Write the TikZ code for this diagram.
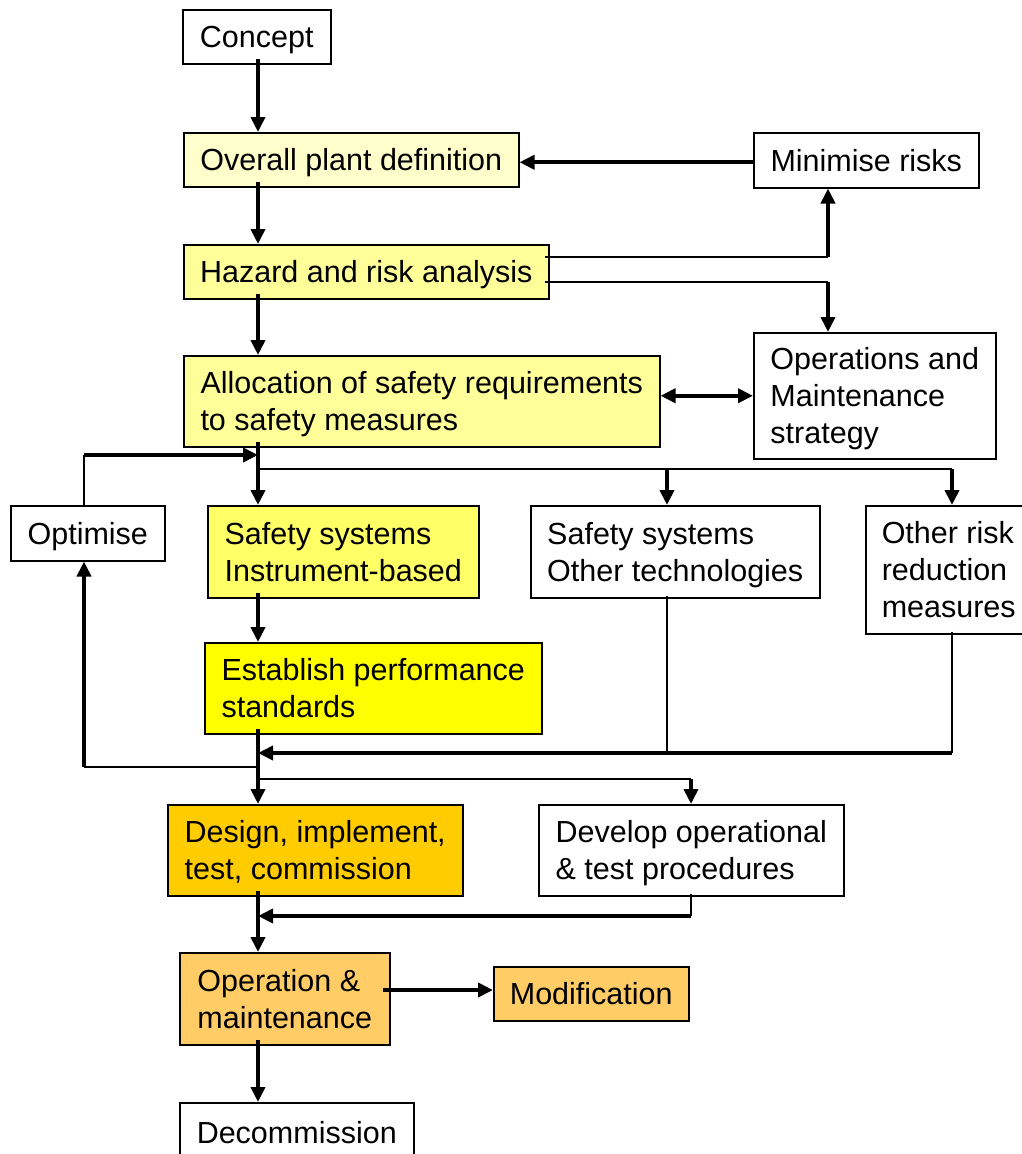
\documentclass[tikz,border=0pt]{standalone}
\usepackage{fontspec}
\setmainfont{Liberation Sans}
\usepackage{tikz}
\usetikzlibrary{arrows.meta, calc, positioning}
\usepackage{xcolor}
\definecolor{paleyellow}{HTML}{FFFFCC}
\definecolor{lightyellow}{HTML}{FFFF99}
\definecolor{midyellow}{HTML}{FFFF66}
\definecolor{fullyellow}{HTML}{FFFF00}
\definecolor{darkgold}{HTML}{FFCC00}
\definecolor{lightorange}{HTML}{FFCC66}
\tikzset{
stage/.style={
  draw, rectangle, line width=1.5pt,
  anchor=north west,
  align=left,
  inner xsep=16pt, inner ysep=0pt,
  text depth=0pt,
  font=\fontsize{30.5}{37}\selectfont,
  fill=white
},
flowline/.style={line width=3.8pt, -{Triangle[length=15pt,width=14pt]}},
bothline/.style={line width=3.8pt, {Triangle[length=15pt,width=14pt]}-{Triangle[length=15pt,width=14pt]}},
thinline/.style={line width=1.5pt},
}

\begin{document}
\begin{tikzpicture}[x=1pt, y=-1pt]
            \useasboundingbox (0,0) rectangle (1021,1154);
            \node[stage, minimum width=148pt, minimum height=54pt] (concept) at (182,9) {Concept};
            \node[stage, fill=paleyellow, minimum width=335pt, minimum height=54pt] (overall) at (183,132) {Overall plant definition};
            \node[stage, minimum width=225pt, minimum height=55pt] (minrisk) at (753,132) {Minimise risks};
            \node[stage, fill=lightyellow, minimum width=365pt, minimum height=54pt] (hazard) at (183,244) {Hazard and risk analysis};
            \node[stage, fill=lightyellow, minimum width=476pt, minimum height=91pt] (alloc) at (183,355) {Allocation of safety requirements\\to safety measures};
            \node[stage, minimum width=242pt, minimum height=126pt] (opstrat) at (753,332) {Operations and\\Maintenance\\strategy};
            \node[stage, minimum width=154pt, minimum height=55pt] (optimise) at (10,505) {Optimise};
            \node[stage, fill=midyellow, minimum width=271pt, minimum height=92pt] (safeinst) at (207,505) {Safety systems\\Instrument-based};
            \node[stage, minimum width=289pt, minimum height=92pt] (safeother) at (530,505) {Safety systems\\Other technologies};
            \node[stage, minimum width=160pt, minimum height=128pt] (otherrisk) at (865,505) {Other risk\\reduction\\measures};
            \node[stage, fill=fullyellow, minimum width=337pt, minimum height=91pt] (estab) at (204,642) {Establish performance\\standards};
            \node[stage, fill=darkgold, minimum width=295pt, minimum height=91pt] (design) at (167,804) {Design, implement,\\test, commission};
            \node[stage, minimum width=305pt, minimum height=91pt] (develop) at (538,804) {Develop operational\\\& test procedures};
            \node[stage, fill=lightorange, minimum width=210pt, minimum height=92pt] (opmaint) at (179,952) {Operation \&\\maintenance};
            \node[stage, fill=lightorange, minimum width=195pt, minimum height=54pt] (modif) at (493,966) {Modification};
            \node[stage, minimum width=234pt, minimum height=60pt] (decom) at (179,1102) {Decommission};

            \coordinate (spine) at (258,0);
            \coordinate (hzup) at (828,257);
            \coordinate (hzdown) at (828,282);
            \coordinate (split) at (258,469);
            \coordinate (brA) at (667,469);
            \coordinate (brB) at (952,469);
            \coordinate (opttop) at (84,455);
            \coordinate (optbot) at (84,767);
            \coordinate (merge) at (952,753);
            \coordinate (devin) at (691,779);
            \coordinate (devout) at (691,916);
            \coordinate (modrow) at (0,990);

            \draw[flowline] ([yshift=6pt]concept.south -| spine) -- (overall.north -| spine);
            \draw[flowline] ([yshift=6pt]overall.south -| spine) -- (hazard.north -| spine);
            \draw[flowline] ([yshift=6pt]hazard.south -| spine) -- (alloc.north -| spine);
            \draw[flowline] ([yshift=-2pt]minrisk.west) -- ([yshift=-2pt]minrisk.west -| overall.east);
            \draw[thinline] ([xshift=-5pt]hazard.east |- hzup) -- (hzup);
            \draw[flowline] (hzup) -- (hzup |- minrisk.south);
            \draw[thinline] ([xshift=-5pt]hazard.east |- hzdown) -- (hzdown);
            \draw[flowline] (hzdown) -- (hzdown |- opstrat.north);
            \draw[bothline] (opstrat.west) -- (opstrat.west -| alloc.east);
            \draw[flowline] ([yshift=6pt]alloc.south -| spine) -- (safeinst.north -| spine);
            \draw[thinline] (split) -- (brB);
            \draw[flowline] (brA) -- (brA |- safeother.north);
            \draw[flowline] (brB) -- (brB |- otherrisk.north);
            \draw[thinline] (optimise.north -| opttop) -- (opttop);
            \draw[flowline] (opttop) -- (opttop -| spine);
            \draw[flowline] ([yshift=6pt]safeinst.south -| spine) -- (estab.north -| spine);
            \draw[flowline] ([yshift=6pt]estab.south -| spine) -- (design.north -| spine);
            \draw[thinline] (optbot -| spine) -- (optbot);
            \draw[flowline] (optbot) -- (optbot |- optimise.south);
            \draw[thinline] ([yshift=3pt]safeother.south -| brA) -- (brA |- merge);
            \draw[thinline] ([yshift=3pt]otherrisk.south -| brB) -- (merge);
            \draw[flowline] (merge) -- (merge -| spine);
            \draw[thinline] (devin -| spine) -- (devin);
            \draw[flowline] (devin) -- (devin |- develop.north);
            \draw[thinline] ([yshift=3pt]develop.south -| devout) -- (devout);
            \draw[flowline] (devout) -- (devout -| spine);
            \draw[flowline] ([yshift=6pt]design.south -| spine) -- (opmaint.north -| spine);
            \draw[flowline] ([xshift=-8pt]opmaint.east |- modrow) -- (modif.west |- modrow);
            \draw[flowline] ([yshift=6pt]opmaint.south -| spine) -- (decom.north -| spine);
\end{tikzpicture}
\end{document}
